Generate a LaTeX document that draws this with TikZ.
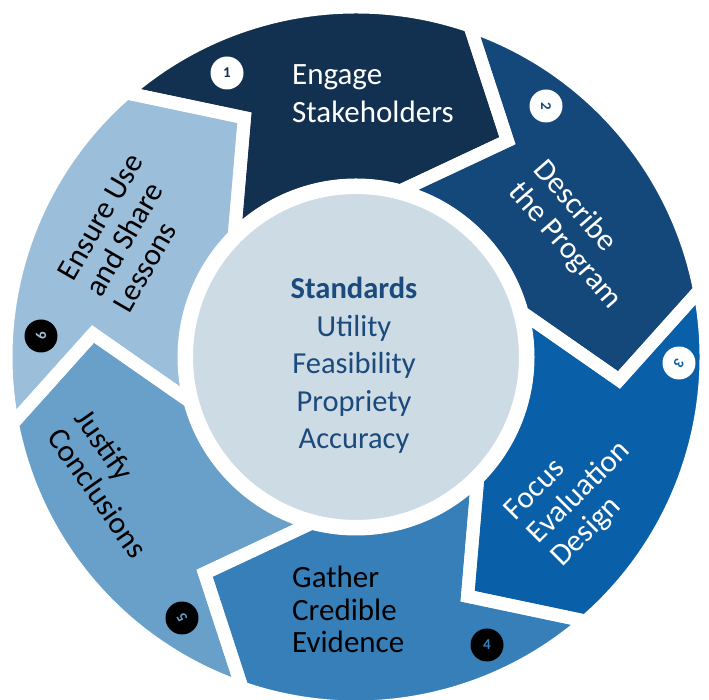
\documentclass[tikz,border=0pt]{standalone}
\usepackage{fontspec}
\setmainfont{Carlito}
\definecolor{cA}{HTML}{12304F}
\definecolor{cB}{HTML}{14487A}
\definecolor{cC}{HTML}{0A60A8}
\definecolor{cD}{HTML}{377FB9}
\definecolor{cE}{HTML}{68A0CA}
\definecolor{cF}{HTML}{9BBEDB}
\definecolor{cCenter}{HTML}{CDDBE5}
\definecolor{cText}{HTML}{1B4A7C}
\begin{document}
\begin{tikzpicture}[x=1pt,y=1pt,
  seglabel/.style={inner sep=0pt, align=left},
  numbadge/.style={circle, minimum size=33pt, inner sep=0pt, font=\fontsize{15}{15}\selectfont\bfseries},
  gapline/.style={draw=white, line width=13pt, line join=miter}
]
\useasboundingbox (0,0) rectangle (709,700);
\begin{scope}[shift={(356,343)}]
  \foreach \k/\col in {0/cA,1/cB,2/cC,3/cD,4/cE,5/cF}{
    \pgfmathsetmacro\oA{131-60*\k}
    \pgfmathsetmacro\oB{71-60*\k}
    \pgfmathsetmacro\tB{55-60*\k}
    \pgfmathsetmacro\iB{75-60*\k}
    \pgfmathsetmacro\iA{135-60*\k}
    \pgfmathsetmacro\tA{115-60*\k}
    \fill[\col] (\oA:350) arc[start angle=\oA, end angle=\oB, radius=350] -- (\tB:264) -- (\iB:172)
      arc[start angle=\iB, end angle=\iA, radius=172] -- (\tA:264) -- cycle;
  }
  \foreach \k in {0,...,5}{
    \pgfmathsetmacro\oA{131-60*\k}
    \pgfmathsetmacro\oB{71-60*\k}
    \pgfmathsetmacro\tB{55-60*\k}
    \pgfmathsetmacro\iB{75-60*\k}
    \pgfmathsetmacro\iA{135-60*\k}
    \pgfmathsetmacro\tA{115-60*\k}
    \draw[gapline] (\oA:350) arc[start angle=\oA, end angle=\oB, radius=350] -- (\tB:264) -- (\iB:172)
      arc[start angle=\iB, end angle=\iA, radius=172] -- (\tA:264) -- cycle;
  }
  \node[circle, fill=cCenter, draw=white, line width=15pt, minimum size=341pt, inner sep=0pt] (std) at (0,0) {};
\end{scope}

\node[anchor=base, align=center, inner sep=0pt, text=cText, font=\fontsize{30.5}{37.5}\selectfont] (stdtext) at (354,251)
  {\textbf{Standards}\\Utility\\Feasibility\\Propriety\\Accuracy};

\node[seglabel, anchor=base west, text=white, font=\fontsize{31}{38}\selectfont] (l1) at (292,577) {Engage\\Stakeholders};
\node[seglabel, rotate=-49, text=white, font=\fontsize{31}{33}\selectfont] (l2) at (577.5,465) {Describe\\the Program};
\node[seglabel, rotate=45, text=white, font=\fontsize{31}{33}\selectfont] (l3) at (580,207) {Focus\\Evaluation\\Design};
\node[seglabel, anchor=base west, text=black, font=\fontsize{31}{32.5}\selectfont] (l4) at (292,47) {Gather\\Credible\\Evidence};
\node[seglabel, rotate=-55, text=black, font=\fontsize{31}{33}\selectfont] (l5) at (111.5,216.5) {Justify\\Conclusions};
\node[seglabel, rotate=60, text=black, font=\fontsize{31}{32}\selectfont] (l6) at (128,467) {Ensure Use\\and Share\\Lessons};

\node[numbadge, fill=white, text=cA] (n1) at (227,627) {1};
\node[numbadge, fill=white, text=cB, rotate=-90] (n2) at (546,594) {2};
\node[numbadge, fill=white, text=cC, rotate=-120] (n3) at (679,337) {3};
\node[numbadge, fill=black, text=cD] (n4) at (487,55) {4};
\node[numbadge, fill=black, text=cE, rotate=120] (n5) at (182,82) {5};
\node[numbadge, fill=black, text=cF, rotate=90] (n6) at (41,364) {6};
\end{tikzpicture}
\end{document}
